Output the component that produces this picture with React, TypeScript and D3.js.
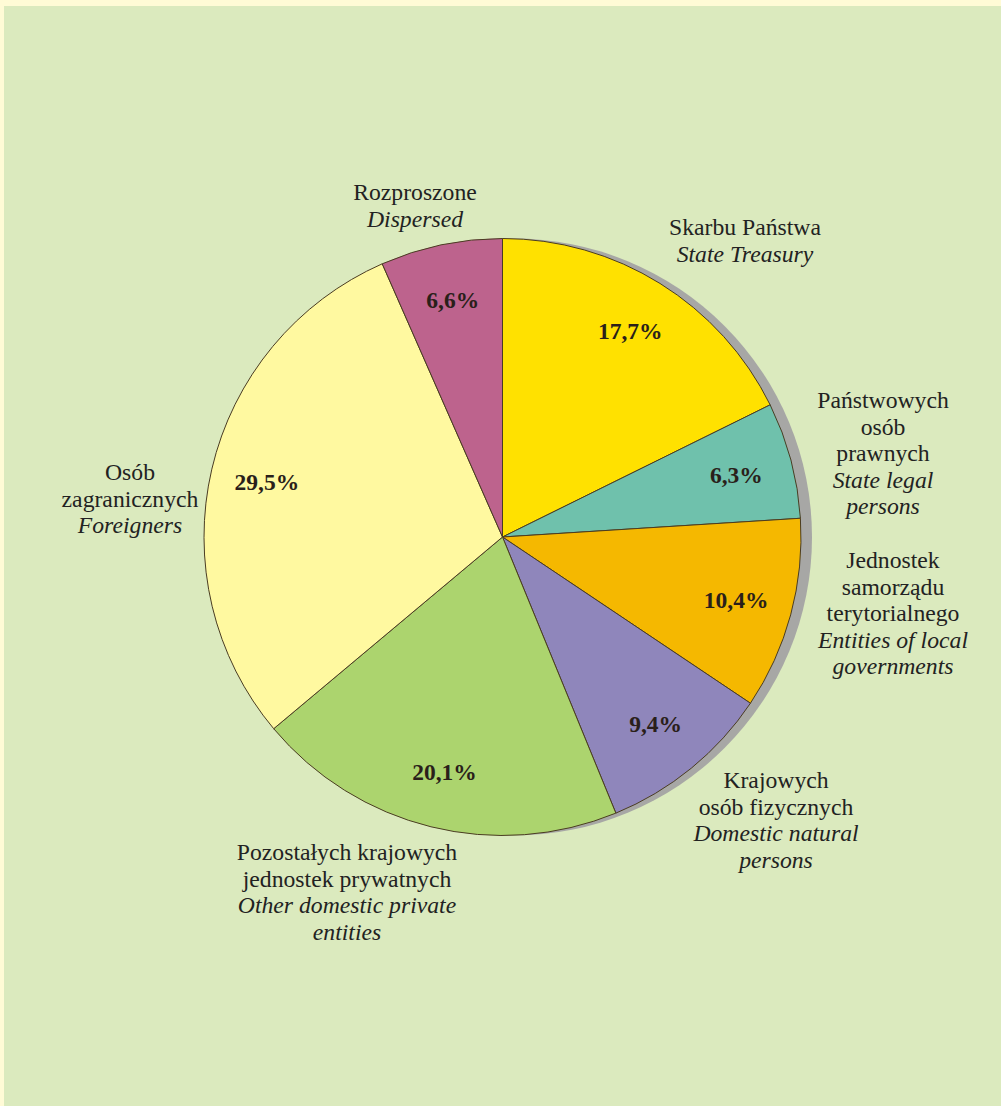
import React, { useEffect, useRef } from "react";
import * as d3 from "d3";

// Ownership structure — shares (%) clockwise from 12 o'clock
const categoriesPl = [
  ["Skarbu Państwa"],
  ["Państwowych", "osób", "prawnych"],
  ["Jednostek", "samorządu", "terytorialnego"],
  ["Krajowych", "osób fizycznych"],
  ["Pozostałych krajowych", "jednostek prywatnych"],
  ["Osób", "zagranicznych"],
  ["Rozproszone"],
];
const categoriesEn = [
  ["State Treasury"],
  ["State legal", "persons"],
  ["Entities of local", "governments"],
  ["Domestic natural", "persons"],
  ["Other domestic private", "entities"],
  ["Foreigners"],
  ["Dispersed"],
];
const shares = [17.7, 6.3, 10.4, 9.4, 20.1, 29.5, 6.6];
const shareLabels = ["17,7%", "6,3%", "10,4%", "9,4%", "20,1%", "29,5%", "6,6%"];

const sliceColors = [
  "#ffe100",
  "#6fc1ac",
  "#f5b800",
  "#8f86bb",
  "#acd46e",
  "#fff9a0",
  "#bd638d",
];

// outer label block anchors: centre x, first baseline y
const labelAnchors: [number, number][] = [
  [745, 235],
  [883, 408],
  [893, 568],
  [776, 788],
  [347, 860],
  [130, 480],
  [415, 200],
];

const App: React.FC = () => {
  const svgRef = useRef<SVGSVGElement>(null);

  useEffect(() => {
    if (!svgRef.current) return;
    const width = 1001;
    const height = 1106;
    const cx = 502.5;
    const cy = 537;
    const radius = 298.5;
    const font = "Liberation Serif, DejaVu Serif, serif";

    const svg = d3.select(svgRef.current);
    svg.selectAll("*").remove();
    svg.attr("width", width).attr("height", height).attr("font-family", font);

    // background
    svg.append("rect").attr("width", width).attr("height", height).attr("fill", "#fffbd6");
    svg
      .append("rect")
      .attr("x", 4)
      .attr("y", 6)
      .attr("width", width - 4)
      .attr("height", height - 6)
      .attr("fill", "#dbeabe");

    // shadow
    svg
      .append("circle")
      .attr("cx", cx + 11)
      .attr("cy", cy)
      .attr("r", radius)
      .attr("fill", "#a7a7a5");

    const data = shares.map((v, i) => ({ v, i }));
    const pie = d3
      .pie<{ v: number; i: number }>()
      .value((d) => d.v)
      .sort(null);
    const arcs = pie(data);

    const arc = d3
      .arc<d3.PieArcDatum<{ v: number; i: number }>>()
      .innerRadius(0)
      .outerRadius(radius);
    const labelArc = d3
      .arc<d3.PieArcDatum<{ v: number; i: number }>>()
      .innerRadius(242)
      .outerRadius(242);

    const g = svg.append("g").attr("transform", `translate(${cx}, ${cy})`);

    g.selectAll("path")
      .data(arcs)
      .enter()
      .append("path")
      .attr("d", arc)
      .attr("fill", (d) => sliceColors[d.data.i])
      .attr("stroke", "#4a3c22")
      .attr("stroke-width", 1);

    g.selectAll("text.pct")
      .data(arcs)
      .enter()
      .append("text")
      .attr("class", "pct")
      .attr("x", (d) => labelArc.centroid(d)[0])
      .attr("y", (d) => labelArc.centroid(d)[1] + 8)
      .attr("text-anchor", "middle")
      .attr("font-family", font)
      .attr("font-size", 23.5)
      .attr("font-weight", "bold")
      .attr("fill", "#2a1f1a")
      .text((d) => shareLabels[d.data.i]);

    // outer labels
    const lineH = 26.5;
    categoriesPl.forEach((pl, i) => {
      const [x, y0] = labelAnchors[i];
      const lines = [
        ...pl.map((t) => ({ t, it: false })),
        ...categoriesEn[i].map((t) => ({ t, it: true })),
      ];
      const t = svg
        .append("text")
        .attr("text-anchor", "middle")
        .attr("font-family", font)
        .attr("font-size", 23.7)
        .attr("fill", "#222222");
      lines.forEach((ln, k) => {
        t.append("tspan")
          .attr("x", x)
          .attr("y", y0 + k * lineH)
          .attr("font-style", ln.it ? "italic" : "normal")
          .text(ln.t);
      });
    });
  }, []);

  return (
    <div style={{ position: "absolute", left: 0, top: 0 }}>
      <svg ref={svgRef} style={{ display: "block" }}></svg>
    </div>
  );
};

export default App;
